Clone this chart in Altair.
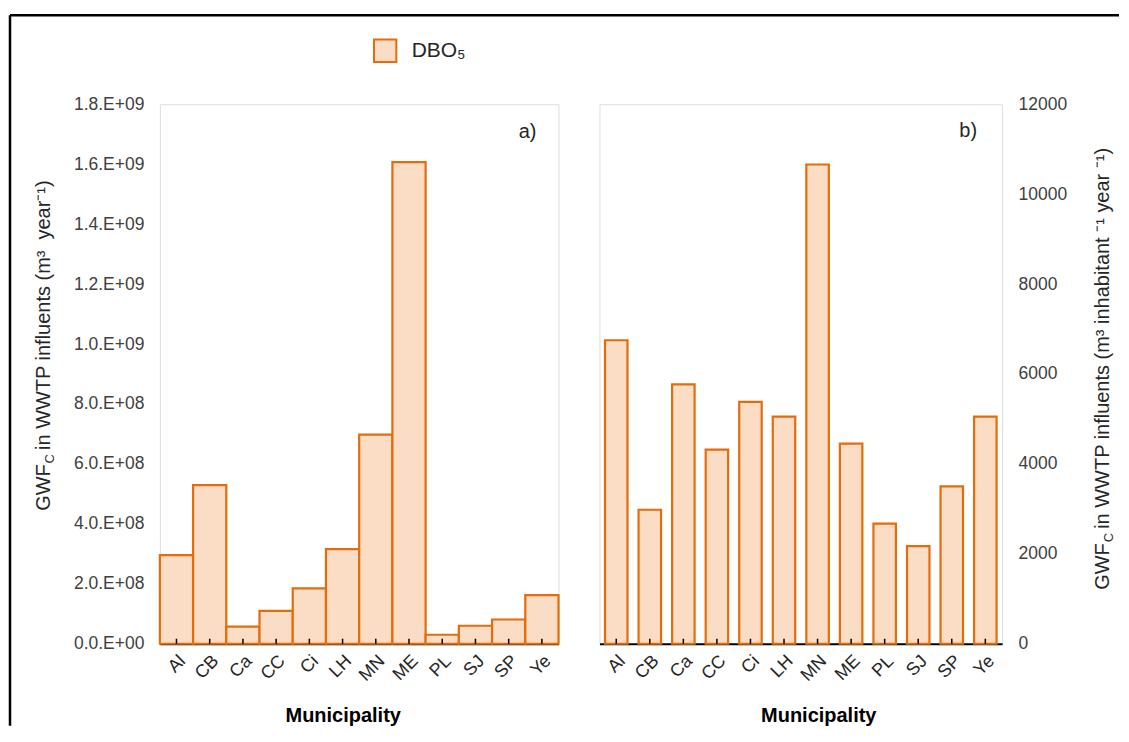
import altair as alt
import pandas as pd

# ---- data ----
municipalities = ["Al", "CB", "Ca", "CC", "Ci", "LH", "MN", "ME", "PL", "SJ", "SP", "Ye"]
gwf_total = [2.96e8, 5.29e8, 0.57e8, 1.10e8, 1.85e8, 3.16e8, 6.98e8, 1.607e9,
             0.30e8, 0.60e8, 0.81e8, 1.62e8]           # m3 / year
gwf_per_inhabitant = [6750, 2980, 5770, 4320, 5380, 5050, 10660, 4450,
                      2670, 2170, 3500, 5050]            # m3 / inhabitant / year
series_name = "DBO₅"
ticks_a = [0, 2e8, 4e8, 6e8, 8e8, 1e9, 1.2e9, 1.4e9, 1.6e9, 1.8e9]
ticks_b = [0, 2000, 4000, 6000, 8000, 10000, 12000]

df_a = pd.DataFrame({"muni": municipalities, "v": gwf_total, "s": series_name})
df_b = pd.DataFrame({"muni": municipalities, "v": gwf_per_inhabitant, "s": series_name})
one = pd.DataFrame({"k": [0]})

FONT = "Liberation Sans"
ORANGE = "#E46C0A"
FILL = "#FBDCC5"
TXT = "#262626"
LAB = "#404040"
H = 540
WA = 399
WB = 403
NB = "\u00a0"

exp_expr = ("datum.value == 0 ? '0.0.E+00' : "
            "format(datum.value / pow(10, floor(log(datum.value) / LN10 + 1e-9)), '.1f')"
            " + '.E+' + pad(floor(log(datum.value) / LN10 + 1e-9), 2, '0', 'left')")


def x_axis(title_x):
    return alt.Axis(title="Municipality", labelAngle=-45, labelFontSize=18, labelColor=TXT,
                    labelPadding=8, ticks=False, domainColor="black", domainWidth=2,
                    titleFontSize=20, titleFontWeight="bold", titleColor="black",
                    titleX=title_x, titleY=72, titleBaseline="middle", titleAlign="center")


fill_enc = alt.Fill("s:N", scale=alt.Scale(range=[FILL]),
                    legend=alt.Legend(orient="none", legendX=213, legendY=-66, title=None,
                                      symbolType="square", symbolSize=500,
                                      symbolStrokeColor=ORANGE, symbolStrokeWidth=2,
                                      symbolFillColor=FILL,
                                      labelFontSize=21, labelColor=TXT, labelOffset=14,
                                      padding=0))


def vtitle(x, y_bottom, rest):
    kw = dict(angle=270, align="left", baseline="alphabetic", color=TXT, font=FONT)
    p1 = alt.Chart(one).mark_text(fontSize=20, **kw).encode(
        x=alt.value(x), y=alt.value(y_bottom), text=alt.value("GWF"))
    p2 = alt.Chart(one).mark_text(fontSize=13, dx=47.5, dy=4, **kw).encode(
        x=alt.value(x), y=alt.value(y_bottom), text=alt.value("C"))
    p3 = alt.Chart(one).mark_text(fontSize=20, dx=61, **kw).encode(
        x=alt.value(x), y=alt.value(y_bottom), text=alt.value(rest))
    return [p1, p2, p3]


# ---- panel a ----
xa = alt.X("muni:N", sort=municipalities, scale=alt.Scale(paddingInner=0, paddingOuter=0),
           axis=x_axis(183))
bars_a = alt.Chart(df_a).mark_bar(stroke=ORANGE, strokeWidth=2.2).encode(
    x=xa,
    y=alt.Y("v:Q", scale=alt.Scale(domain=[0, 1.8e9], nice=False),
            axis=alt.Axis(title=None, values=ticks_a, labelExpr=exp_expr, labelFontSize=17.5,
                          labelColor=LAB, labelPadding=16, ticks=False, domain=False,
                          grid=False)),
    fill=fill_enc,
)
ticks_a_layer = alt.Chart(df_a).mark_rule(color="black", strokeWidth=1.5).encode(
    x=alt.X("muni:N", sort=municipalities), y=alt.value(H), y2=alt.value(H - 5))
lab_a = alt.Chart(one).mark_text(fontSize=20, align="right", baseline="middle",
                                 color=TXT, font=FONT).encode(
    x=alt.value(377), y=alt.value(28), text=alt.value("a)"))
frame_left = alt.Chart(one).mark_rule(color="black", strokeWidth=2.5).encode(
    x=alt.value(-150), y=alt.value(-89), y2=alt.value(622))
frame_top = alt.Chart(one).mark_rule(color="black", strokeWidth=2.5).encode(
    x=alt.value(-150), x2=alt.value(960), y=alt.value(-89))

panel_a = alt.layer(
    bars_a, ticks_a_layer, lab_a, frame_left, frame_top,
    *vtitle(-110, 407, "in WWTP influents (m³" + NB + NB + "year⁻¹)")
).properties(width=WA, height=H)

# ---- panel b ----
xb = alt.X("muni:N", sort=municipalities,
           scale=alt.Scale(paddingInner=0.33, paddingOuter=0.165), axis=x_axis(219))
bars_b = alt.Chart(df_b).mark_bar(stroke=ORANGE, strokeWidth=2.2).encode(
    x=xb,
    y=alt.Y("v:Q", scale=alt.Scale(domain=[0, 12000], nice=False),
            axis=alt.Axis(title=None, orient="right", values=ticks_b, format="d",
                          labelFontSize=17.5, labelColor=LAB, labelPadding=16, ticks=False,
                          domain=False, grid=False)),
    fill=fill_enc,
)
ticks_b_layer = alt.Chart(df_b).mark_rule(color="black", strokeWidth=1.5).encode(
    x=alt.X("muni:N", sort=municipalities), y=alt.value(H), y2=alt.value(H - 5))
lab_b = alt.Chart(one).mark_text(fontSize=20, align="right", baseline="middle",
                                 color=TXT, font=FONT).encode(
    x=alt.value(378), y=alt.value(27), text=alt.value("b)"))

panel_b = alt.layer(
    bars_b, ticks_b_layer, lab_b,
    *vtitle(510, 486, "in WWTP influents (m³ inhabitant ⁻¹ year ⁻¹)")
).properties(width=WB, height=H)

chart = alt.hconcat(panel_a, panel_b, spacing=41, bounds="flush").properties(
    padding={"left": 0, "top": 5, "right": 0, "bottom": 0},
    background="white",
).configure_view(stroke="#8C8C8C", strokeWidth=1.5).configure(font=FONT)

chart.save("out.html", embed_options={"renderer": "svg", "actions": False})
